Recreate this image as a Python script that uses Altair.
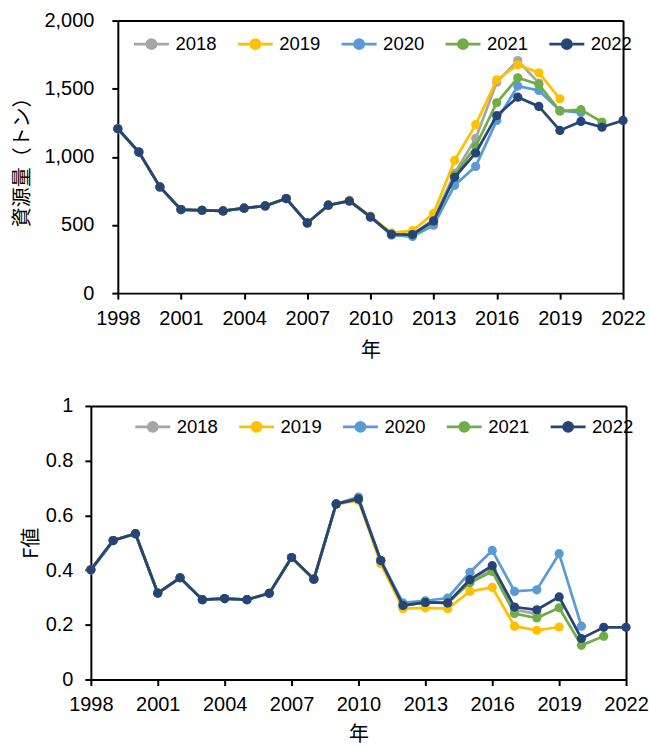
import altair as alt
import pandas as pd

series = ["2018", "2019", "2020", "2021", "2022"]
colors = ["#A5A5A5", "#FFC000", "#5B9BD5", "#70AD47", "#264478"]
x_ticks = [1998, 2001, 2004, 2007, 2010, 2013, 2016, 2019, 2022]

# 資源量 (トン), each series starts in 1998
b2018 = [1206, 1035, 779, 613, 608, 603, 623, 640, 694, 515, 645, 676, 559, 432,
         432, 540, 880, 1135, 1548, 1707, 1541]
b2019 = [1206, 1035, 779, 613, 608, 603, 623, 640, 694, 515, 645, 682, 566, 442,
         458, 585, 974, 1236, 1565, 1675, 1617, 1426]
b2020 = [1206, 1035, 779, 613, 608, 603, 623, 640, 694, 515, 645, 676, 559, 425,
         415, 498, 791, 930, 1267, 1519, 1487, 1340, 1325]
b2021 = [1206, 1035, 779, 613, 608, 603, 623, 640, 694, 515, 645, 676, 559, 432,
         430, 525, 864, 1077, 1397, 1580, 1531, 1335, 1346, 1255]
b2022 = [1206, 1035, 779, 613, 608, 603, 623, 640, 694, 515, 645, 676, 559, 432,
         430, 530, 850, 1028, 1302, 1438, 1370, 1194, 1260, 1218, 1267]

# F値
f2018 = [0.401, 0.508, 0.533, 0.316, 0.372, 0.292, 0.296, 0.292, 0.315, 0.446, 0.367, 0.642, 0.660,
         0.435, 0.271, 0.282, 0.280, 0.360, 0.400, 0.255, 0.240]
f2019 = [0.401, 0.508, 0.533, 0.316, 0.372, 0.292, 0.296, 0.292, 0.315, 0.446, 0.367, 0.640, 0.655,
         0.423, 0.259, 0.262, 0.259, 0.322, 0.337, 0.195, 0.180, 0.192]
f2020 = [0.401, 0.508, 0.533, 0.316, 0.372, 0.292, 0.296, 0.292, 0.315, 0.446, 0.367, 0.642, 0.667,
         0.435, 0.280, 0.288, 0.298, 0.392, 0.472, 0.322, 0.328, 0.460, 0.195]
f2021 = [0.401, 0.508, 0.533, 0.316, 0.372, 0.292, 0.296, 0.292, 0.315, 0.446, 0.367, 0.642, 0.660,
         0.435, 0.271, 0.282, 0.280, 0.354, 0.395, 0.241, 0.225, 0.262, 0.125, 0.158]
f2022 = [0.401, 0.508, 0.533, 0.316, 0.372, 0.292, 0.296, 0.292, 0.315, 0.446, 0.367, 0.642, 0.660,
         0.435, 0.271, 0.282, 0.280, 0.365, 0.416, 0.265, 0.255, 0.302, 0.150, 0.191, 0.191]


def to_df(lists):
    rows = []
    for s, vals in zip(series, lists):
        for i, v in enumerate(vals):
            rows.append({"year": 1998 + i, "value": v, "series": s})
    return pd.DataFrame(rows)


df_b = to_df([b2018, b2019, b2020, b2021, b2022])
df_f = to_df([f2018, f2019, f2020, f2021, f2022])

LABEL_FONT = "Liberation Sans"
CJK_FONT = "Noto Sans CJK JP"
SYMBOL = "M-1,0L1,0M0.26,0A0.26,0.26,0,1,1,-0.26,0A0.26,0.26,0,1,1,0.26,0Z"


def panel(df, ytitle, ydomain, yvalues, yformat, w, h, x_left, lx, ly,
          ylabpad, ytitlepad, xtitlepad):
    xscale = alt.Scale(domain=[1998, 2022], nice=False, zero=False, range=[x_left, w])
    yscale = alt.Scale(domain=ydomain, nice=False)
    yaxis_kw = dict(values=yvalues, format=yformat, title=ytitle, labelFlush=False,
                    labelPadding=ylabpad, titlePadding=ytitlepad)
    if x_left:
        yaxis_kw["offset"] = -x_left
    layers = []
    for s in series:
        base = alt.Chart(df).transform_filter(alt.datum.series == s)
        enc = dict(
            x=alt.X("year:Q", scale=xscale,
                    axis=alt.Axis(values=x_ticks, format="d", title="年", labelFlush=False,
                                  labelPadding=9, titlePadding=xtitlepad)),
            y=alt.Y("value:Q", scale=yscale, axis=alt.Axis(**yaxis_kw)),
            color=alt.Color("series:N",
                            scale=alt.Scale(domain=series, range=colors),
                            legend=alt.Legend(orient="none", legendX=lx, legendY=ly,
                                              direction="horizontal", columns=5, title=None,
                                              symbolType=SYMBOL, symbolSize=1225,
                                              symbolStrokeWidth=2.75, labelFont=LABEL_FONT,
                                              labelFontSize=18.5, labelColor="black",
                                              labelOffset=5, columnPadding=15, padding=0)),
        )
        layers.append(base.mark_line(strokeWidth=2.75).encode(**enc))
        layers.append(base.mark_point(filled=True, size=85, opacity=1).encode(**enc))
    # frame: top and right axis lines (domain only)
    frame = (
        alt.Chart(df).transform_filter(alt.datum.series == series[-1])
        .mark_line(opacity=0)
        .encode(
            x=alt.X("year:Q", scale=xscale,
                    axis=alt.Axis(orient="top", labels=False, ticks=False, title=None)),
            y=alt.Y("value:Q", scale=yscale,
                    axis=alt.Axis(orient="right", labels=False, ticks=False, title=None)),
        )
    )
    return (
        alt.layer(alt.layer(*layers), frame)
        .resolve_axis(x="independent", y="independent")
        .properties(width=w, height=h)
    )


top = panel(df_b, "資源量（トン）", [0, 2000], [0, 500, 1000, 1500, 2000], ",.0f",
            533, 273, 27, 41.7, 4.2, 18, 11, 12)
bottom = panel(df_f, "F値", [0, 1], [0, 0.2, 0.4, 0.6, 0.8, 1], "~g",
               536, 274, 0, 43, 1.5, 12, 4, 10)

chart = (
    alt.vconcat(top, bottom, spacing=36)
    .resolve_scale(color="independent")
    .resolve_legend(color="independent")
    .properties(padding={"left": 12, "top": 10, "right": 0, "bottom": 6}, background="white")
    .configure_view(stroke=None)
    .configure_axis(domainColor="black", domainWidth=2, tickColor="black", tickWidth=2,
                    tickSize=6, labelColor="black", labelFont=LABEL_FONT, labelFontSize=20,
                    titleFont=CJK_FONT, titleFontSize=20, titleFontWeight="normal",
                    titleColor="black", grid=False)
)

chart.save("out.html", embed_options={"renderer": "svg", "actions": False})
